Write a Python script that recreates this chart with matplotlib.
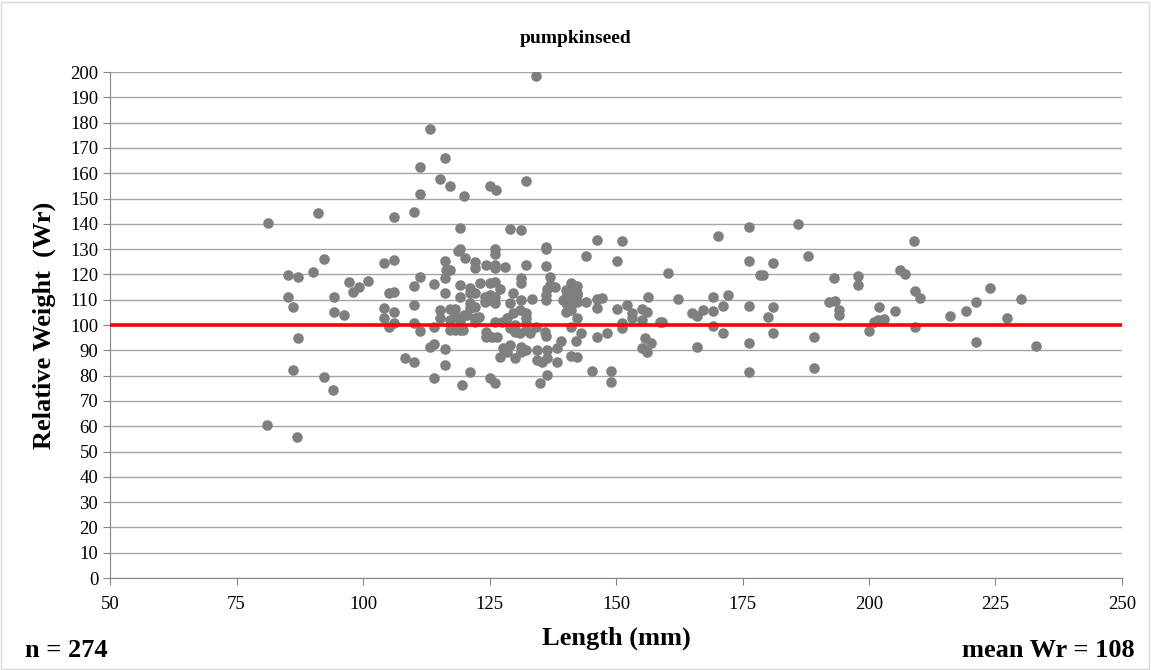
import numpy as np
import matplotlib
matplotlib.use("Agg")
from matplotlib import pyplot as plt
from matplotlib.patches import Rectangle

# length (mm) and relative weight
length = [81.3, 91.2, 92.2, 85.1, 87.2, 90.2, 85.1, 86.2, 94.3, 94.3, 96.2, 97.3, 98.1, 99.2, 101.0,
          87.2, 86.2, 92.2, 81.0, 87.0, 94.0,
          113.2, 116.2, 111.3, 115.2, 117.2, 120.0, 111.3, 110.1, 106.2, 119.2, 119.2,
          104.2, 106.2, 116.2, 116.4, 117.2, 116.2, 111.3, 110.1, 114.1, 119.2, 118.8, 105.1, 106.2,
          116.2, 110.1, 104.2, 106.2, 104.2, 106.2, 105.1, 110.1, 111.3, 114.1, 115.2, 115.2, 117.2,
          118.2, 117.2, 118.2, 119.2, 120.0, 117.2, 118.2, 119.2, 113.2, 114.1, 116.2, 108.2, 110.1,
          116.2, 114.1, 119.5,
          134.2, 125.1, 126.2, 132.2, 129.1, 131.2, 126.1, 136.2,
          120.2, 122.1, 122.1, 124.4, 126.1, 126.1, 126.1, 128.1, 132.2, 136.2, 136.2, 137.0, 137.0,
          131.3, 131.3, 123.1, 125.1, 126.1, 127.1, 136.3, 121.1, 121.1, 122.1, 119.2, 124.1, 125.1,
          126.1, 129.7, 131.3, 133.3, 136.2, 136.2, 129.1, 121.1, 121.1, 122.1, 124.1, 125.1, 126.1,
          131.0, 132.3, 129.7, 128.4, 120.5, 122.1, 122.1, 126.1, 132.3, 132.3, 132.3, 130.0, 134.2,
          136.0, 136.2, 124.4, 124.4, 125.4, 126.4, 130.0, 131.0, 119.8, 129.1, 127.7, 127.1, 128.4,
          131.3, 131.3, 132.3, 130.0, 134.3, 134.3, 135.3, 136.3, 136.3, 136.3, 121.1, 125.1, 126.1,
          135.0, 123.0, 127.5, 133.0, 129.0,
          146.2, 151.1, 144.1, 150.1, 141.2, 142.2, 140.2, 141.2, 142.2, 140.2, 141.2, 142.2, 140.2,
          141.2, 142.2, 140.2, 141.2, 137.9, 146.2, 147.2, 146.2, 150.1, 152.1, 153.2, 153.2, 155.2,
          156.1, 156.3, 155.2, 158.7, 151.1, 151.1, 142.2, 141.2, 143.1, 142.1, 139.1, 138.3, 138.3,
          146.2, 148.2, 141.2, 142.2, 145.2, 149.1, 149.1, 155.7, 157.0, 155.1, 156.1, 139.5, 144.0,
          170.1, 176.2, 176.2, 160.2, 178.5, 162.2, 169.2, 172.1, 171.2, 176.2, 169.2, 167.2, 165.1,
          166.1, 159.0, 169.2, 171.2, 166.1, 176.2, 176.2,
          186.0, 188.0, 181.1, 179.1, 193.1, 197.9, 197.9, 192.1, 193.2, 194.1, 194.1, 181.1, 180.1,
          181.1, 189.2, 189.2,
          208.9, 206.1, 207.1, 209.1, 210.1, 202.0, 205.1, 200.9, 201.8, 203.0, 200.0, 209.1, 216.0,
          219.1, 221.1, 224.0, 230.0, 227.2, 221.1, 233.1]

wr = [140.2, 144.2, 126.0, 119.6, 119.1, 121.0, 111.2, 107.1, 111.2, 105.0, 103.8, 117.1, 113.2, 114.9, 117.5,
      94.9, 82.2, 79.6, 60.5, 55.8, 74.5,
      177.3, 165.9, 162.3, 157.7, 155.1, 151.1, 151.6, 144.8, 142.6, 138.2, 130.0,
      124.4, 125.7, 125.3, 121.7, 121.7, 118.5, 119.1, 115.4, 116.1, 115.7, 129.4, 112.5, 113.2,
      112.8, 107.8, 106.8, 105.0, 102.6, 100.9, 99.1, 100.9, 97.6, 99.1, 105.9, 102.6, 106.3,
      106.3, 102.0, 103.5, 101.5, 104.0, 97.9, 97.9, 97.9, 91.4, 92.5, 90.5, 86.8, 85.3,
      84.2, 79.2, 76.3,
      198.4, 155.1, 153.2, 156.9, 137.8, 137.4, 130.0, 131.0,
      126.4, 125.0, 122.4, 123.7, 128.0, 123.7, 122.4, 123.0, 123.7, 123.3, 130.0, 119.1, 115.8,
      118.5, 116.5, 116.5, 116.5, 117.1, 114.1, 114.1, 114.5, 112.5, 112.5, 111.2, 111.2, 111.9,
      111.2, 112.5, 109.9, 110.2, 109.9, 111.9, 108.6, 108.6, 106.6, 107.2, 109.2, 109.9, 108.6,
      105.9, 104.6, 104.6, 102.6, 104.0, 102.6, 101.3, 101.3, 102.6, 100.9, 98.0, 100.0, 99.3,
      97.4, 95.7, 97.4, 95.4, 95.4, 95.4, 97.4, 96.7, 98.0, 92.1, 90.8, 87.5, 89.5,
      91.4, 89.5, 90.1, 86.8, 90.1, 86.2, 85.5, 86.8, 90.1, 80.2, 81.5, 78.9, 77.0,
      77.0, 103.0, 101.0, 97.0, 99.0,
      133.6, 133.3, 127.4, 125.3, 116.5, 115.4, 113.8, 113.2, 112.5, 111.2, 110.6, 111.9, 108.6,
      108.0, 109.0, 105.3, 105.9, 115.2, 110.2, 110.6, 106.6, 106.2, 107.9, 104.6, 102.6, 106.2,
      105.3, 111.2, 102.0, 101.3, 100.7, 98.7, 102.6, 99.3, 97.0, 93.8, 93.8, 90.8, 85.5,
      95.1, 96.7, 87.9, 87.5, 81.9, 81.9, 77.6, 94.7, 92.8, 90.8, 89.5, 110.0, 109.0,
      135.3, 138.9, 125.4, 120.4, 119.8, 110.4, 111.0, 111.9, 107.6, 107.6, 105.5, 105.9, 104.6,
      103.6, 101.3, 99.7, 97.0, 91.2, 93.0, 81.5,
      139.9, 127.3, 124.6, 119.8, 118.5, 119.4, 115.8, 109.2, 109.6, 105.9, 104.0, 107.2, 103.3,
      97.0, 95.4, 82.9,
      133.3, 121.7, 120.2, 113.6, 110.6, 107.2, 105.5, 101.3, 102.0, 102.4, 97.6, 99.1, 103.6,
      105.5, 109.2, 114.7, 110.3, 102.6, 93.4, 91.7]

x_ticks = [50, 75, 100, 125, 150, 175, 200, 225, 250]
y_ticks = list(range(0, 201, 10))
standard_wr = 100

serif = ['Liberation Serif', 'DejaVu Serif']

fig = plt.figure(figsize=(11.51, 6.70), dpi=100)
ax = fig.add_axes([0.0956, 0.1373, 0.8792, 0.7552])

ax.scatter(length, wr, s=58, color='#7f7f7f', zorder=3, linewidths=0)
ax.axhline(standard_wr, color='#ff0000', lw=2.6, zorder=4)

ax.set_xlim(50, 250)
ax.set_ylim(0, 200)
ax.set_xticks(x_ticks)
ax.set_yticks(y_ticks)
ax.grid(axis='y', color='#a6a6a6', lw=1.0, zorder=0)
for s in ['top', 'right']:
    ax.spines[s].set_visible(False)
for s in ['left', 'bottom']:
    ax.spines[s].set_color('#868686')
ax.tick_params(axis='both', colors='#868686', length=5, labelcolor='black', labelsize=13.5)
ax.tick_params(axis='x', pad=8)
for lab in ax.get_xticklabels() + ax.get_yticklabels():
    lab.set_family(serif)

fig.text(0.5, 0.943, 'pumpkinseed', fontsize=14, fontweight='bold', family=serif,
         ha='center', va='center')
ax.set_xlabel('Length (mm)', fontsize=19, fontweight='bold', family=serif, labelpad=10)
ax.set_ylabel('Relative Weight  (Wr)', fontsize=19, fontweight='bold', family=serif, labelpad=10)

fig.text(0.0217, 0.0194, 'n = 274', fontsize=19, fontweight='bold', family=serif, va='baseline')
fig.text(0.986, 0.0194, 'mean Wr = 108', fontsize=19, fontweight='bold', family=serif,
         ha='right', va='baseline')

fig.patches.append(Rectangle((0.001, 0.002), 0.997, 0.995, transform=fig.transFigure,
                             fill=False, edgecolor='#d9d9d9', lw=1))

fig.savefig('out.png', dpi=100)
